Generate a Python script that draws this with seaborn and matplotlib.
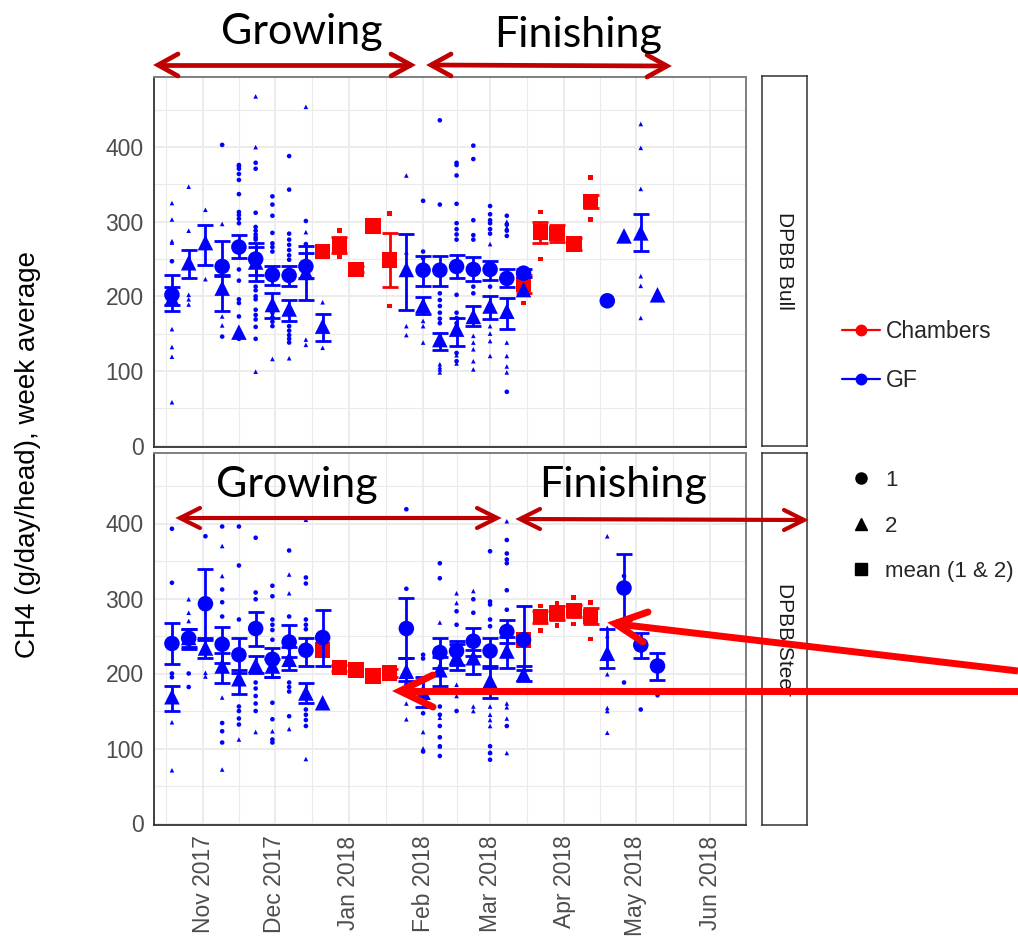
import numpy as np
import pandas as pd
import matplotlib
matplotlib.use("Agg")
import matplotlib.pyplot as plt
import matplotlib.dates as mdates
from matplotlib.lines import Line2D
import seaborn as sns

nan = np.nan

# weekly sampling dates (week index -> date)
weeks = pd.date_range("2017-10-19", periods=30, freq="7D")

# ---- DPBB Bull: weekly means with 95% CI ----
bull_gf1_week = [0, 3, 4, 5, 6, 7, 8, 15, 16, 17, 18, 19, 20, 21, 26]
bull_gf1_mean = [202, 240, 266, 250, 229, 228, 240, 235, 235, 240, 236, 236, 224, 231, 194]
bull_gf1_lo = [189, 227, 251, 228, 215, 214, 225, 214, 214, 224, 220, 222, 213, 226, nan]
bull_gf1_hi = [229, 274, 282, 272, 241, 240, 258, 254, 254, 256, 253, 247, 236, 236, nan]

bull_gf2_week = [0, 1, 2, 3, 4, 5, 6, 7, 8, 9, 14, 15, 16, 17, 18, 19, 20, 21, 27, 28, 29]
bull_gf2_mean = [197, 245, 272, 211, 152, 246, 189, 183, 232, 160, 236, 188, 142, 156, 173, 187, 180, 209, 281, 285, 202]
bull_gf2_lo = [180, 224, 242, 180, nan, 220, 171, 167, 195, 140, 182, 176, 128, 134, 160, 169, 156, nan, nan, 261, nan]
bull_gf2_hi = [213, 262, 296, 228, nan, 266, 204, 195, 267, 176, 283, 199, 151, 171, 187, 201, 198, nan, nan, 310, nan]

bull_ch_week = [9, 10, 11, 12, 13, 21, 22, 23, 24, 25]
bull_ch_mean = [260, 269, 236, 294, 249, 216, 286, 284, 270, 327]
bull_ch_lo = [nan, 258, 232, nan, 212, 205, 272, 273, 262, 318]
bull_ch_hi = [nan, 280, 240, nan, 285, 228, 299, 296, 278, 336]

# individual animals (week index -> values)
bull_gf1_pts = {0: [247], 3: [403, 146],
                4: [376, 374, 371, 364, 356, 337, 313, 309, 304, 298, 236, 221, 196, 191, 173, 143],
                5: [379, 371, 312, 293, 288, 283, 279, 276, 213, 208, 200, 196, 182, 175, 169, 159, 143],
                6: [334, 323, 308, 285, 271, 266, 260, 178, 172, 166, 160],
                7: [388, 343, 284, 276, 269, 262, 255, 249, 160, 154, 148, 143, 138],
                8: [301, 270], 15: [328, 260, 251], 16: [436, 323, 204, 195, 187, 178, 170, 164],
                17: [379, 376, 362, 324, 298, 290, 283, 276, 202, 178, 171, 164, 124, 113],
                18: [402, 384, 302, 282, 276, 213, 204], 19: [321, 310, 302, 298, 290, 284, 213],
                20: [308, 296, 288, 281, 72]}
bull_gf2_pts = {0: [325, 303, 274, 272, 156, 132, 119, 58], 1: [347, 288, 202, 196, 189],
                2: [316, 223], 3: [297, 173, 161], 4: [148], 5: [468, 400, 99], 6: [116],
                7: [117], 8: [454, 286, 142, 135], 9: [192, 131], 14: [362, 259, 160, 148],
                15: [167, 160, 138], 16: [109, 105, 102, 98], 17: [121, 110],
                18: [147, 138, 129, 113, 102], 19: [270, 160, 150, 140, 120],
                20: [300, 292, 138, 120, 106, 98], 28: [431, 399, 344, 227, 214, 171]}
bull_ch_pts = {10: [288, 253], 11: [239, 233], 13: [311, 187], 21: [191], 22: [313, 250],
               23: [293, 274], 24: [275, 264], 25: [359, 303]}

# ---- DPBB Steer ----
steer_gf1_week = [0, 1, 2, 3, 4, 5, 6, 7, 8, 9, 14, 16, 17, 18, 19, 20, 21, 27, 28, 29]
steer_gf1_mean = [240, 247, 293, 239, 225, 260, 219, 242, 231, 248, 260, 228, 230, 243, 230, 256, 245, 314, 238, 210]
steer_gf1_lo = [213, 235, 245, 214, 201, 237, 195, 222, 210, 210, 221, 208, 212, 223, 210, 241, 205, 272, 221, 191]
steer_gf1_hi = [268, 260, 340, 262, 248, 282, 234, 265, 248, 285, 301, 247, 243, 261, 248, 272, 290, 359, 254, 227]

steer_gf2_week = [0, 1, 2, 3, 4, 5, 6, 7, 8, 9, 14, 15, 16, 17, 18, 19, 20, 21, 26]
steer_gf2_mean = [169, 248, 234, 210, 193, 211, 210, 219, 174, 161, 203, 175, 205, 222, 221, 190, 230, 199, 227]
steer_gf2_lo = [150, 233, 221, 187, 173, 201, 195, 205, 161, nan, 190, 156, 183, 205, 199, 168, 208, 190, 207]
steer_gf2_hi = [184, 260, 248, 228, 205, 223, 220, 235, 188, nan, 221, 195, 222, 240, 232, 208, 249, 210, 259]

steer_ch_week = [9, 10, 11, 12, 13, 21, 22, 23, 24, 25]
steer_ch_mean = [231, 208, 205, 197, 201, 245, 276, 281, 284, 276]
steer_ch_lo = [nan, 203, nan, nan, 196, nan, 268, 272, 276, 266]
steer_ch_hi = [nan, 212, nan, nan, 206, nan, 284, 290, 292, 287]

steer_gf1_pts = {0: [393, 321, 200, 195], 1: [200, 182], 2: [383], 3: [396, 312, 295, 276, 134, 123, 108],
                 4: [396, 344, 272, 156, 150, 140, 132], 5: [381, 308, 299, 188, 180, 170, 160, 150],
                 6: [317, 303, 272, 265, 258, 245, 161, 139, 112, 108], 7: [364, 276, 188, 182, 176, 143],
                 8: [328, 320, 272, 265, 259, 152, 145, 138, 130], 14: [419, 313, 185],
                 15: [225, 220, 147, 96], 16: [347, 327, 156, 145, 130, 115, 103, 90],
                 17: [283, 265, 150], 18: [299, 281], 19: [363, 296, 292, 272, 263, 103, 94, 85],
                 20: [378, 360, 352, 347, 311, 285, 130], 27: [330, 188], 28: [152], 29: [171]}
steer_gf2_pts = {0: [135, 71], 1: [299, 281, 270], 2: [201, 196], 3: [370, 330, 168, 72], 4: [112],
                 5: [122], 6: [123], 7: [332, 307, 126], 8: [405, 86], 14: [174, 160, 139],
                 15: [122, 100], 16: [268, 141, 103], 17: [307, 294, 185, 170], 18: [310, 156, 150],
                 19: [156, 145, 138, 130, 95], 20: [403, 160, 155, 140, 94],
                 26: [383, 261, 250, 199, 154, 150, 121]}
steer_ch_pts = {10: [212, 203], 13: [207, 195], 22: [290, 257], 23: [294, 264], 24: [301, 266],
                25: [295, 246]}

COLORS = {"Chambers": "#FF0000", "GF": "#0000FF"}
MARKERS = {"1": "o", "2": "^", "mean (1 & 2)": "s"}
W, H = 1018, 948


def means_frame(panel, method, group, week, mean, lo, hi):
    return pd.DataFrame({"panel": panel, "method": method, "group": group,
                         "date": weeks[week], "value": mean, "lo": lo, "hi": hi})


def points_frame(panel, method, group, pts):
    rows = [(weeks[w], v) for w, vals in pts.items() for v in vals]
    df = pd.DataFrame(rows, columns=["date", "value"])
    df["panel"], df["method"], df["group"] = panel, method, group
    return df


means = pd.concat([
    means_frame("DPBB Bull", "GF", "1", bull_gf1_week, bull_gf1_mean, bull_gf1_lo, bull_gf1_hi),
    means_frame("DPBB Bull", "GF", "2", bull_gf2_week, bull_gf2_mean, bull_gf2_lo, bull_gf2_hi),
    means_frame("DPBB Bull", "Chambers", "mean (1 & 2)", bull_ch_week, bull_ch_mean, bull_ch_lo, bull_ch_hi),
    means_frame("DPBB Steer", "GF", "1", steer_gf1_week, steer_gf1_mean, steer_gf1_lo, steer_gf1_hi),
    means_frame("DPBB Steer", "GF", "2", steer_gf2_week, steer_gf2_mean, steer_gf2_lo, steer_gf2_hi),
    means_frame("DPBB Steer", "Chambers", "mean (1 & 2)", steer_ch_week, steer_ch_mean, steer_ch_lo, steer_ch_hi),
], ignore_index=True)

points = pd.concat([
    points_frame("DPBB Bull", "GF", "1", bull_gf1_pts),
    points_frame("DPBB Bull", "GF", "2", bull_gf2_pts),
    points_frame("DPBB Bull", "Chambers", "mean (1 & 2)", bull_ch_pts),
    points_frame("DPBB Steer", "GF", "1", steer_gf1_pts),
    points_frame("DPBB Steer", "GF", "2", steer_gf2_pts),
    points_frame("DPBB Steer", "Chambers", "mean (1 & 2)", steer_ch_pts),
], ignore_index=True)

sns.set_style("white")
plt.rcParams["font.family"] = ["Liberation Sans", "DejaVu Sans"]

fig = plt.figure(figsize=(W / 100, H / 100), dpi=100)


def px_rect(x0, y0, x1, y1):
    return [x0 / W, 1 - y1 / H, (x1 - x0) / W, (y1 - y0) / H]


panels = [("DPBB Bull", (154, 77, 746, 447), (762, 76, 807, 446)),
          ("DPBB Steer", (154, 453, 746, 825), (762, 453, 807, 825))]

month_starts = pd.date_range("2017-10-01", "2018-07-01", freq="MS")
mid_months = month_starts[:-1] + (month_starts[1:] - month_starts[:-1]) / 2

for k, (name, rect, srect) in enumerate(panels):
    ax = fig.add_axes(px_rect(*rect))
    pts = points[points.panel == name]
    mns = means[means.panel == name]

    for method, z in (("Chambers", 2), ("GF", 3)):
        sub = pts[pts.method == method]
        sns.scatterplot(data=sub, x="date", y="value", hue="method", style="group",
                        palette=COLORS, markers=MARKERS, s=11, linewidth=0,
                        legend=False, ax=ax, zorder=z)
    for method, z in (("Chambers", 4), ("GF", 6)):
        sub = mns[mns.method == method]
        ci = sub.dropna(subset=["lo", "hi"])
        ax.errorbar(ci.date, ci.value, yerr=[ci.value - ci.lo, ci.hi - ci.value],
                    fmt="none", ecolor=COLORS[method], elinewidth=2.0,
                    capsize=5.5, capthick=2.0, zorder=z)
        sns.scatterplot(data=sub, x="date", y="value", hue="method", style="group",
                        palette=COLORS, markers=MARKERS, s=125, linewidth=0,
                        legend=False, ax=ax, zorder=z + 1)

    ax.set_xlim(pd.Timestamp("2017-10-11 12:00"), pd.Timestamp("2018-06-16"))
    ax.set_ylim(-2, 494)
    ax.set_yticks([0, 100, 200, 300, 400])
    ax.set_yticks([50, 150, 250, 350, 450], minor=True)
    ax.xaxis.set_major_locator(mdates.MonthLocator())
    ax.xaxis.set_major_formatter(mdates.DateFormatter("%b %Y"))
    ax.set_xticks(mid_months, minor=True)
    ax.grid(which="major", color="#EBEBEB", lw=1.3)
    ax.grid(which="minor", color="#EBEBEB", lw=0.8)
    ax.set_axisbelow(True)
    ax.set_xlabel("")
    ax.set_ylabel("")
    ax.tick_params(which="minor", length=0)
    ax.tick_params(axis="both", which="major", labelsize=16.5, labelcolor="#4D4D4D",
                   color="#333333", width=1.2, length=4)
    ax.tick_params(axis="x", labelrotation=90)
    if k == 0:
        ax.tick_params(axis="x", length=0, labelbottom=False)
    for side in ("left", "bottom"):
        ax.spines[side].set_color("#333333")
        ax.spines[side].set_linewidth(1.3)
    for side in ("top", "right"):
        ax.spines[side].set_color("#7F7F7F")
        ax.spines[side].set_linewidth(1.4)

    sax = fig.add_axes(px_rect(*srect))
    sax.set_xticks([])
    sax.set_yticks([])
    for sp in sax.spines.values():
        sp.set_color("#333333")
        sp.set_linewidth(1.1)
    sax.text(0.5, 0.5, name, rotation=-90, ha="center", va="center",
             fontsize=15, color="#1A1A1A", transform=sax.transAxes)

fig.text(28 / W, 1 - 455 / H, "CH4 (g/day/head), week average", rotation=90,
         ha="center", va="center", fontsize=20, color="black")

method_handles = [Line2D([0], [0], color=COLORS[m], marker="o", lw=1.6, ms=7.5, label=m)
                  for m in ("Chambers", "GF")]
fig.legend(handles=method_handles, loc="center left", frameon=False,
           bbox_to_anchor=(842 / W, 1 - 356 / H), fontsize=16.5, borderpad=0,
           borderaxespad=0, handlelength=1.65, handletextpad=0.25, labelspacing=1.12)
shape_handles = [Line2D([0], [0], color="black", marker=MARKERS[g], ls="none",
                        ms=8 if g != "2" else 9, label=g) for g in MARKERS]
fig.legend(handles=shape_handles, loc="center left", frameon=False,
           bbox_to_anchor=(842 / W, 1 - 526 / H), fontsize=16, borderpad=0,
           borderaxespad=0, handlelength=1.7, handletextpad=0.25, labelspacing=1.1)

# slide annotations drawn on top, in pixel coordinates
ov = fig.add_axes([0, 0, 1, 1], zorder=20)
ov.set_xlim(0, W)
ov.set_ylim(H, 0)
ov.axis("off")
ov.patch.set_alpha(0)


def chevron(x, y, dx, dy, color, lw):
    ov.plot([x + dx, x, x + dx], [y - dy, y, y + dy], color=color, lw=lw,
            solid_capstyle="round", solid_joinstyle="miter")


def double_arrow(x0, x1, y0, y1, color="#C00000", lw=3.4, dx=20, dy=11):
    ov.plot([x0, x1], [y0, y1], color=color, lw=lw, solid_capstyle="butt")
    chevron(x0, y0, dx, dy, color, lw)
    chevron(x1, y1, -dx, dy, color, lw)


double_arrow(158, 411, 65, 65)
double_arrow(431, 667, 65, 66)
double_arrow(180, 497, 518, 518, lw=3.0, dx=20, dy=10)
double_arrow(520, 804, 519, 520, lw=3.0, dx=20, dy=10)

for x, y, txt in ((302, 44, "Growing"), (578, 47, "Finishing"),
                  (297, 497, "Growing"), (623, 497, "Finishing")):
    ov.text(x, y, txt, ha="center", va="baseline", fontsize=31,
            family=["Lato", "DejaVu Sans"], color="black")

red = "#FF0000"
ov.plot([1018, 617], [671, 624], color=red, lw=5, solid_capstyle="butt")
ov.plot([648, 615, 643], [612, 623.5, 642], color=red, lw=5,
        solid_capstyle="round", solid_joinstyle="miter")
ov.plot([1018, 402], [691, 691], color=red, lw=5, solid_capstyle="butt")
ov.plot([433, 400, 433], [675, 691, 707], color=red, lw=5,
        solid_capstyle="round", solid_joinstyle="miter")

fig.savefig("out.png", dpi=100)
